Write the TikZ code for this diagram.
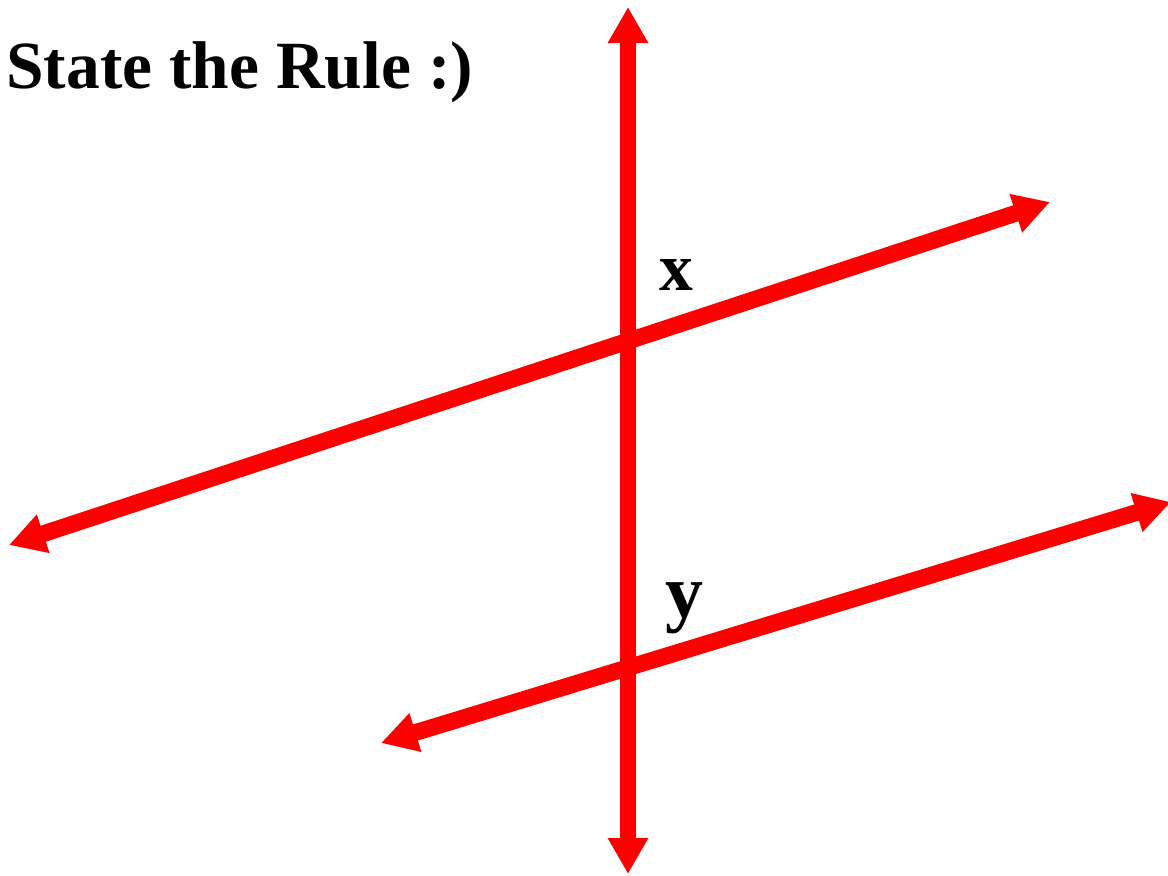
\documentclass[tikz,border=0pt]{standalone}
\usepackage{fontspec}
\setmainfont{Liberation Serif}
\usetikzlibrary{arrows.meta}
\definecolor{rulered}{RGB}{255,0,0}

\begin{document}
\begin{tikzpicture}[x=0.025cm,y=-0.025cm,
  redline/.style={line width=0.42cm,rulered,{Triangle[length=0.9cm,width=0.95cm]}-{Triangle[length=0.9cm,width=0.95cm]}},
  bigtext/.style={font=\fontsize{48}{58}\selectfont\bfseries}]
  \useasboundingbox (0,0) rectangle (1168,875);
  \clip (0,0) rectangle (1168,875);
  % Title
  \node[bigtext,anchor=base west,inner sep=0pt] (title) at (6,88) {State the Rule :)};
  % End points
  \coordinate (vtop) at (628,7);
  \coordinate (vbot) at (628,874);
  \coordinate (aleft) at (9,545);
  \coordinate (aright) at (1050,202);
  \coordinate (bleft) at (381,743);
  \coordinate (bright) at (1171,502);
  % Parallel lines and transversal
  \draw[redline] (aleft) -- (aright);
  \draw[redline] (bleft) -- (bright);
  \draw[redline] (vbot) -- (vtop);
  % Angle labels
  \node[bigtext,anchor=base,inner sep=0pt] (xlab) at (676,290) {x};
  \node[bigtext,anchor=base,inner sep=0pt,font=\fontsize{54}{60}\selectfont\bfseries] (ylab) at (684,617) {y};
\end{tikzpicture}
\end{document}
